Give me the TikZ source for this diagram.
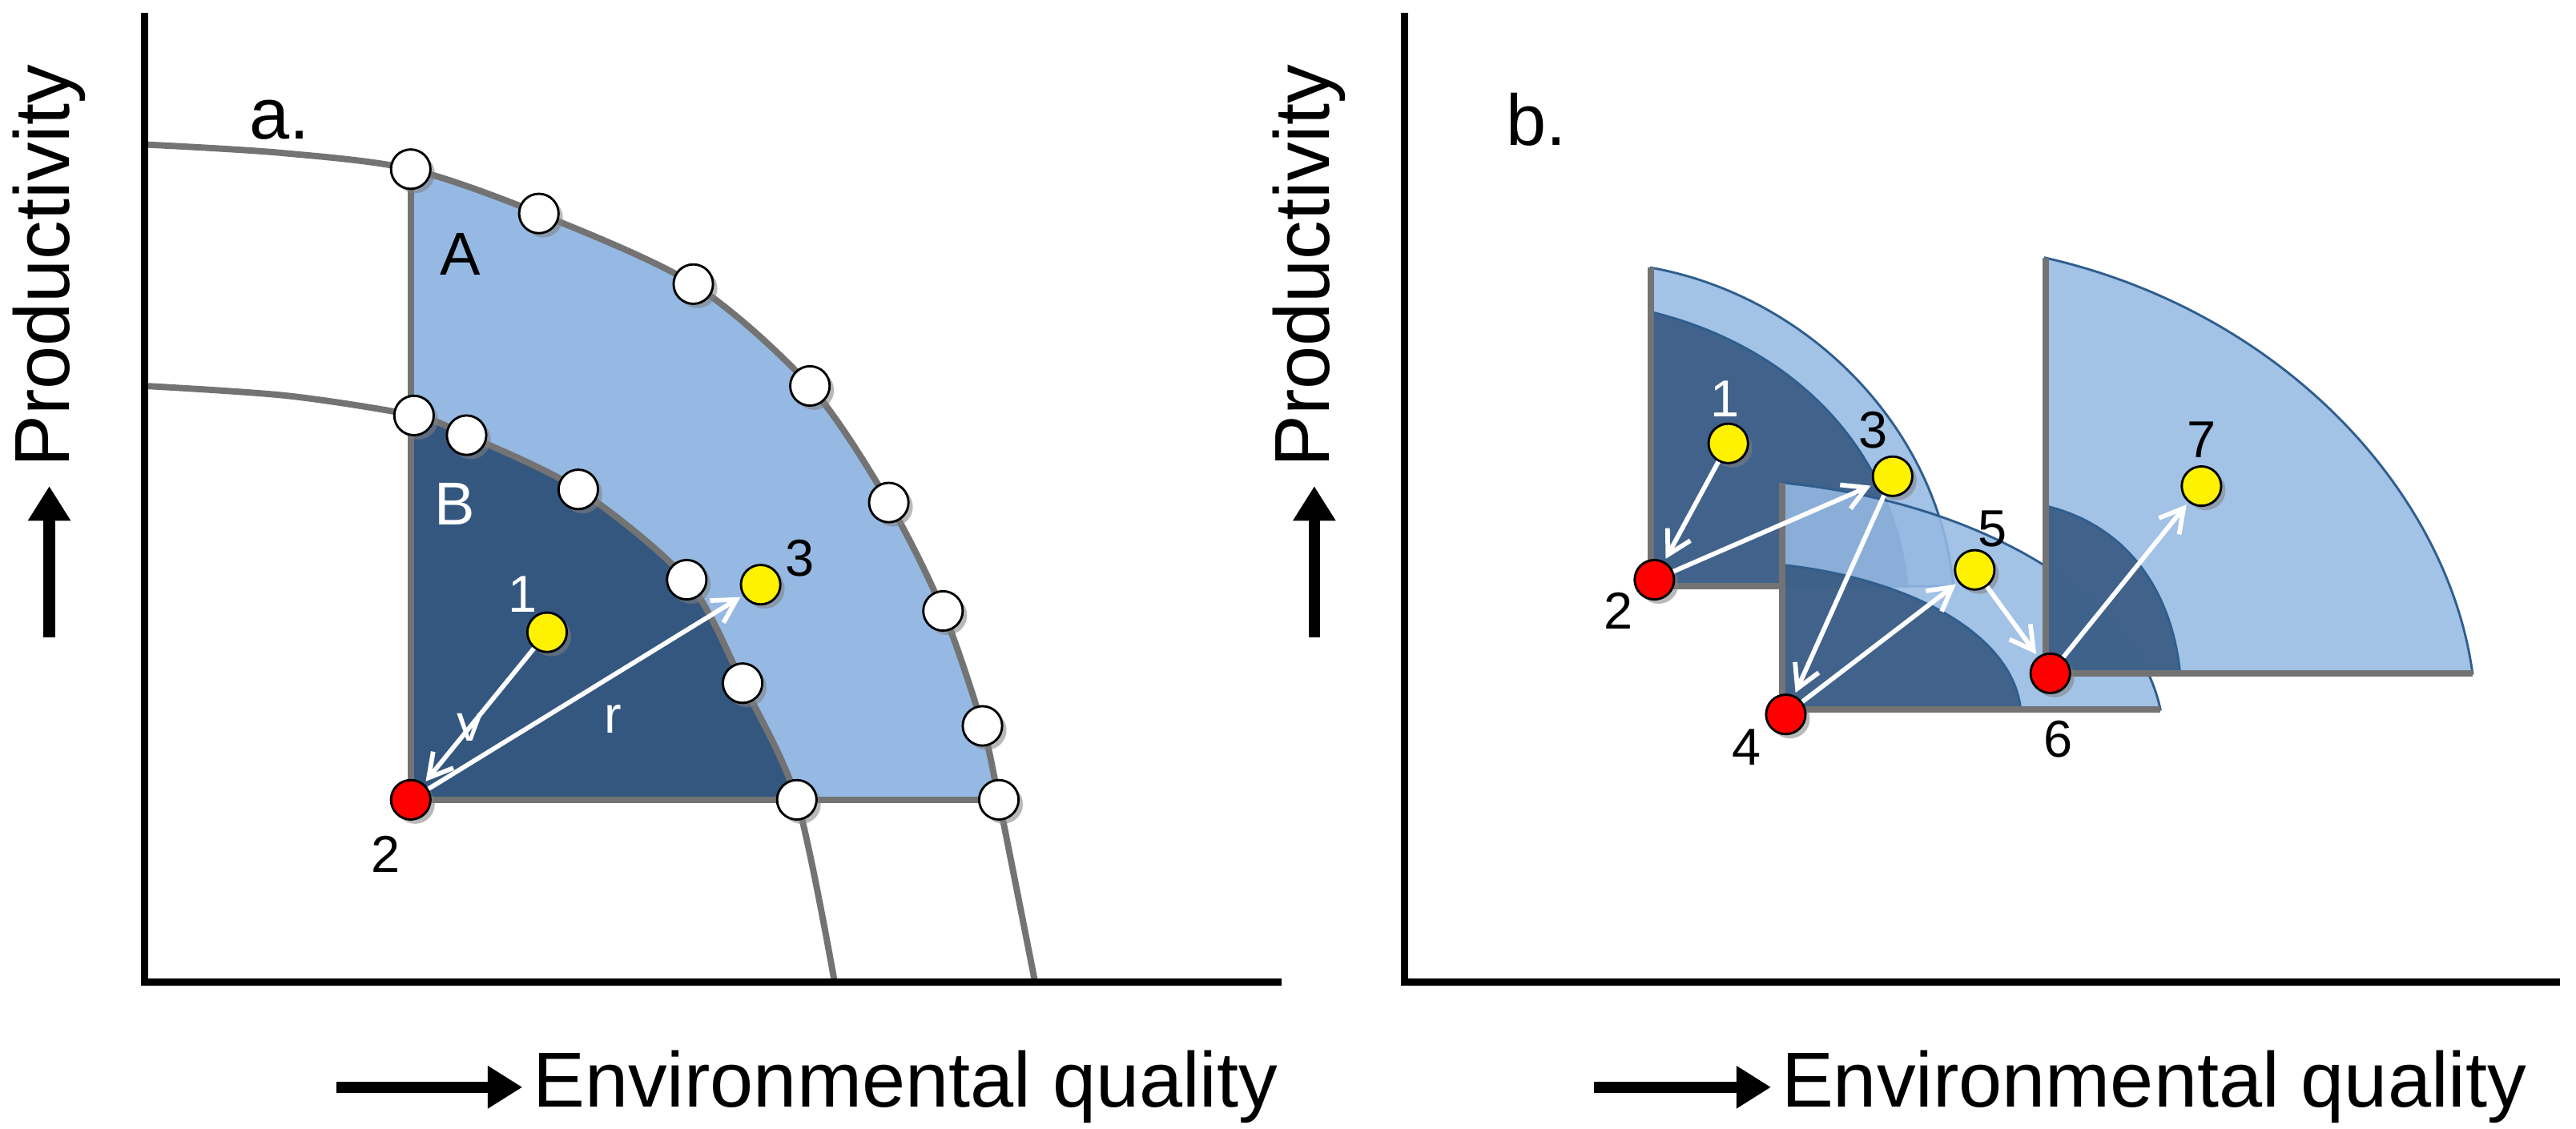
\documentclass[tikz,border=0pt]{standalone}
\usepackage{fontspec}
\setmainfont{Liberation Sans}
\usetikzlibrary{arrows.meta,shadows}
\definecolor{lb}{HTML}{95B9E3}
\definecolor{db}{HTML}{34577F}
\definecolor{gl}{HTML}{737373}
\definecolor{eb}{HTML}{2F5E8E}
\begin{document}
\begin{tikzpicture}[x=0.02cm,y=-0.02cm,
  ax/.style={line width=2.4pt,black},
  bigarrow/.style={line width=4pt,-{Triangle[length=12pt,width=14pt]}},
  axlab/.style={font=\fontsize{27}{31}\selectfont,inner sep=0pt},
  gline/.style={line width=2.2pt,gl},
  pt/.style={circle,draw=black,line width=0.8pt,fill=#1,minimum width=22*0.02cm,minimum height=24*0.02cm,inner sep=0pt,
     drop shadow={opacity=0.55,shadow xshift=1.5pt,shadow yshift=-1.5pt}},
  num/.style={font=\fontsize{18}{20}\selectfont,inner sep=0pt},
  warr/.style={white,line width=1.6pt,-{Straight Barb[length=8pt,width=9pt]},shorten >=1pt},
  sect/.style={fill=#1,draw=eb,line width=0.8pt,fill opacity=0.88}
]
\useasboundingbox (0,0) rectangle (1568,687.4);
% ---------- panel a ----------
\fill[lb] (250,103) -- plot[smooth] coordinates {(250,103)(328,130)(422,173)(493,235)(541,306)(574,372)(598,442)(608,487)} -- (250,487) -- cycle;
\fill[db] (250,253) -- plot[smooth] coordinates {(252,253)(284,265)(352,298)(418,353)(452,416)(485,487)} -- (250,487) -- cycle;
\draw[gline] plot[smooth] coordinates {(88,88)(170,93)(250,103)(328,130)(422,173)(493,235)(541,306)(574,372)(598,442)(608,487)(630,598)};
\draw[gline] plot[smooth] coordinates {(88,235)(175,241)(252,253)(284,265)(352,298)(418,353)(452,416)(485,487)(508,598)};
\draw[gline] (250,103) -- (250,487) -- (608,487);
\foreach \p/\q in {250/103,328/130,422/173,493/235,541/306,574/372,598/442,608/487,252/253,284/265,352/298,418/353,452/416,485/487}
  \node[pt=white] at (\p,\q) {};
\node[font=\fontsize{21}{24}\selectfont] (A) at (280,155) {A};
\node[font=\fontsize{21}{24}\selectfont,text=white] (B) at (277,307) {B};
\node[pt=yellow] (a1) at (333,385) {};
\node[pt=yellow] (a3) at (463,356) {};
\node[pt=red] (a2) at (250,487) {};
\node[num,text=white] at (318,362) {1};
\node[num] at (487,340) {3};
\node[num] at (235,520) {2};
\draw[warr] (a1) -- (a2);
\draw[warr] (a2) -- (a3);
\node[num,text=white] at (286,443) {v};
\node[num,text=white] at (373,438) {r};
\draw[ax] (88,8) -- (88,598) -- (780,598);
\node[font=\fontsize{25}{28}\selectfont] at (170,73) {a.};
\node[axlab,rotate=90] at (30,162) {Productivity};
\draw[bigarrow] (30,388) -- (30,296);
\draw[bigarrow] (205,662) -- (318,662);
\node[axlab,anchor=west] at (324,662) {Environmental quality};
% ---------- panel b ----------
\draw[sect=lb] (1005,163) .. controls (1100,180) and (1180,260) .. (1189,357) -- (1005,357) -- cycle;
\draw[sect=db] (1005,190) .. controls (1088,210) and (1152,270) .. (1161,357) -- (1005,357) -- cycle;
\draw[gline] (1005,163) -- (1005,357) -- (1090,357);
\draw[sect=lb] (1085,294) .. controls (1200,305) and (1300,360) .. (1315,432) -- (1085,432) -- cycle;
\draw[sect=db] (1085,344) .. controls (1160,352) and (1225,385) .. (1230,432) -- (1085,432) -- cycle;
\draw[gline] (1085,294) -- (1085,432) -- (1315,432);
\draw[sect=lb] (1245,157) .. controls (1390,190) and (1490,300) .. (1505,410) -- (1245,410) -- cycle;
\draw[sect=db] (1245,308) .. controls (1295,320) and (1322,360) .. (1327,410) -- (1245,410) -- cycle;
\draw[gline] (1245,157) -- (1245,410) -- (1505,410);
\node[pt=yellow] (b1) at (1052,270) {};
\node[pt=red] (b2) at (1007,353) {};
\node[pt=yellow] (b3) at (1152,290) {};
\node[pt=red] (b4) at (1087,435) {};
\node[pt=yellow] (b5) at (1202,347) {};
\node[pt=red] (b6) at (1248,410) {};
\node[pt=yellow] (b7) at (1340,296) {};
\node[num,text=white] at (1050,243) {1};
\node[num] at (985,372) {2};
\node[num] at (1140,262) {3};
\node[num] at (1063,455) {4};
\node[num] at (1213,322) {5};
\node[num] at (1253,450) {6};
\node[num] at (1340,268) {7};
\draw[warr] (b1) -- (b2);
\draw[warr] (b2) -- (b3);
\draw[warr] (b3) -- (b4);
\draw[warr] (b4) -- (b5);
\draw[warr] (b5) -- (b6);
\draw[warr] (b6) -- (b7);
\draw[ax] (855,8) -- (855,598) -- (1558,598);
\node[font=\fontsize{25}{28}\selectfont] at (935,73) {b.};
\node[axlab,rotate=90] at (797,162) {Productivity};
\draw[bigarrow] (800,388) -- (800,296);
\draw[bigarrow] (970,662) -- (1078,662);
\node[axlab,anchor=west] at (1084,662) {Environmental quality};
\end{tikzpicture}
\end{document}
